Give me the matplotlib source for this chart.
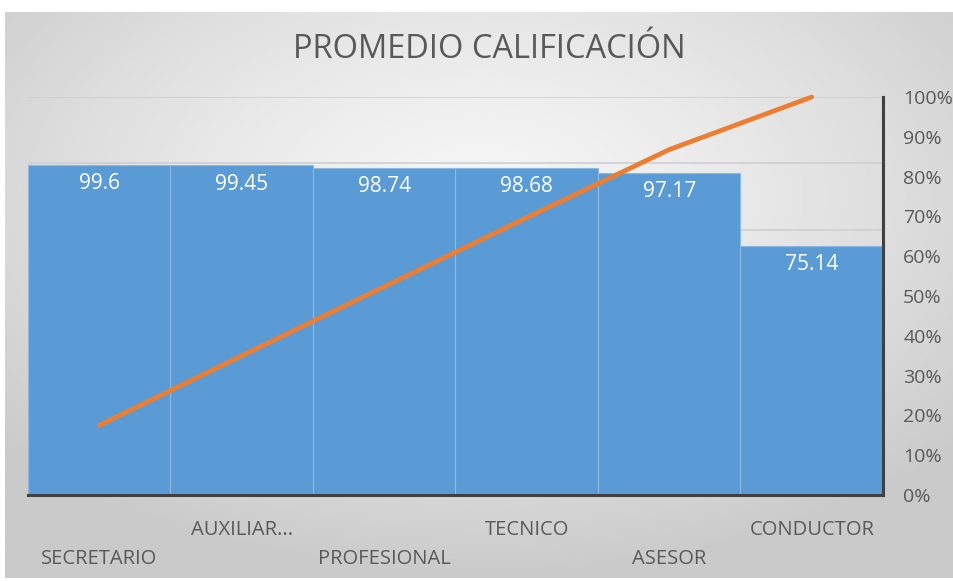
import numpy as np
import matplotlib.pyplot as plt
from matplotlib.ticker import PercentFormatter

categories = ["SECRETARIO", "AUXILIAR...", "PROFESIONAL", "TECNICO", "ASESOR", "CONDUCTOR"]
scores = [99.6, 99.45, 98.74, 98.68, 97.17, 75.14]

cumulative = np.cumsum(scores) / np.sum(scores)

BAR_COLOR = "#5B9BD5"
LINE_COLOR = "#ED7D31"
TEXT_COLOR = "#595959"
FONT = ["Open Sans", "DejaVu Sans"]

fig = plt.figure(figsize=(9.54, 5.81), dpi=100)
fig.patch.set_facecolor("white")

# gray radial gradient background of the chart area
bg = fig.add_axes([5 / 954, 3 / 581, 949 / 954, 566 / 581])
yy, xx = np.mgrid[-1:1:300j, -1:1:500j]
dist = np.clip(np.sqrt(xx ** 2 + (yy + 0.35) ** 2) / 1.35, 0, 1)
shade = 0.96 - 0.17 * dist ** 1.4
bg.imshow(shade, cmap="gray", vmin=0, vmax=1, aspect="auto", extent=[0, 1, 0, 1])
bg.axis("off")
bg.set_zorder(0)

ax = fig.add_axes([28 / 954, 86 / 581, 855 / 954, 398 / 581])
ax.set_zorder(1)
ax.patch.set_alpha(0)

x = np.arange(len(categories))
ax.bar(x, scores, width=1.0, color=BAR_COLOR, edgecolor="#8DB8E3", linewidth=0.8, zorder=2)

for i, v in enumerate(scores):
    ax.text(i, v - 2.6, f"{v:g}", ha="center", va="top", color="white",
            fontsize=15, family=FONT, zorder=3)

ax.set_xlim(-0.5, len(categories) - 0.5)
ax.set_ylim(0, 120)
ax.set_yticks(np.arange(0, 121, 20))
ax.yaxis.grid(True, color="#cfcfcf", linewidth=1.2, zorder=0)
ax.set_axisbelow(True)
ax.set_xticks(x)
ax.set_xticklabels([])
ax.tick_params(axis="x", bottom=False)
for s in ["left", "top", "right"]:
    ax.spines[s].set_visible(False)
ax.spines["bottom"].set_color("#404040")
ax.spines["bottom"].set_linewidth(2.2)
ax.spines["bottom"].set_zorder(4)

# staggered category labels
for i, name in enumerate(categories):
    y_off = -0.088 if i % 2 == 1 else -0.161
    ax.text(i, y_off, name, transform=ax.get_xaxis_transform(), ha="center", va="center",
            color=TEXT_COLOR, fontsize=14.5, family=FONT)

ax2 = ax.twinx()
ax2.plot(x, cumulative, color=LINE_COLOR, linewidth=3.4, solid_capstyle="round",
         zorder=5, clip_on=False)
ax2.set_ylim(0, 1)
ax2.set_yticks(np.arange(0, 1.01, 0.1))
ax2.yaxis.set_major_formatter(PercentFormatter(1.0, decimals=0))
ax2.tick_params(axis="y", right=False, pad=11, labelsize=14, labelcolor=TEXT_COLOR)
for lab in ax2.get_yticklabels():
    lab.set_family(FONT)
for s in ["left", "top", "bottom"]:
    ax2.spines[s].set_visible(False)
ax2.spines["right"].set_color("#404040")
ax2.spines["right"].set_linewidth(2.2)

# twinx turns the left ticks back on
ax.tick_params(axis="y", left=False, labelleft=False)

fig.text(489 / 954, 1 - 49 / 581, "PROMEDIO CALIFICACIÓN", ha="center", va="center",
         fontsize=23.5, color=TEXT_COLOR, family=FONT)

fig.savefig("out.png", dpi=100)
